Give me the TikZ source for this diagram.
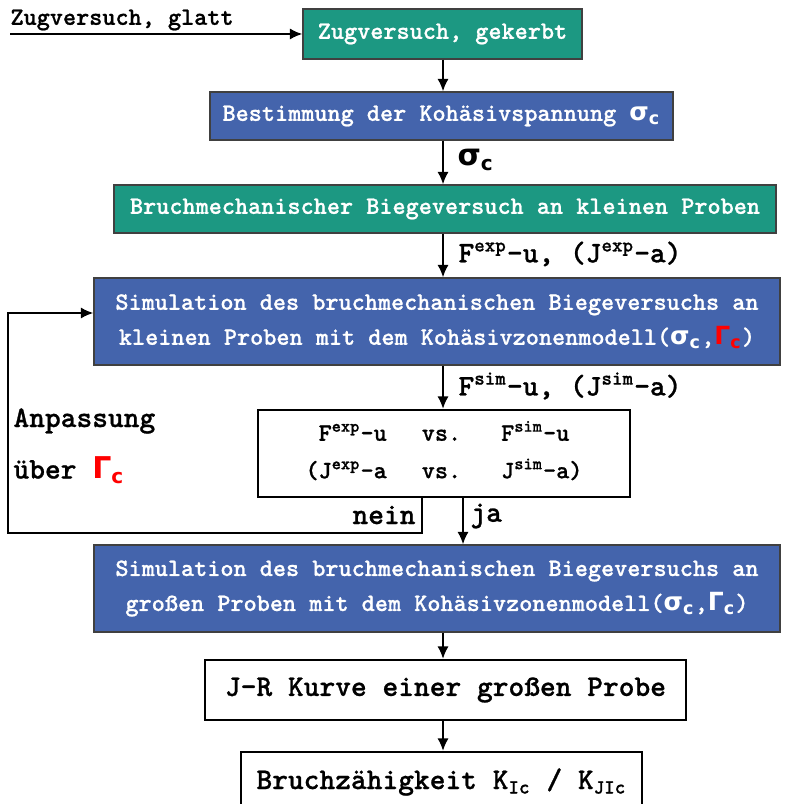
\documentclass[tikz,border=0pt]{standalone}
\usepackage{xcolor}
\usepackage{amsmath}
\usepackage{fontspec}
\usepackage{tikz}
\usetikzlibrary{arrows.meta,positioning}
\newfontfamily\grkfont{DejaVu Sans}
\newfontfamily\heavytt{lmmonolt10-bold}[Extension=.otf, FakeBold=0.8]
\definecolor{zugteal}{RGB}{28,152,130}
\definecolor{simblue}{RGB}{68,100,172}
\newcommand{\sigc}{{\grkfont\bfseries σ}\textsubscript{\grkfont\bfseries c}}
\newcommand{\gamc}{{\grkfont\bfseries Γ}\textsubscript{\grkfont\bfseries c}}
\newcommand{\hoch}[1]{\textsuperscript{#1}}
\newcommand{\tief}[1]{\textsubscript{#1}}

\begin{document}
\begin{tikzpicture}[x=0.4pt,y=-0.4pt,
  every node/.style={font=\heavytt, inner sep=0pt},
  tealbox/.style={draw=black!75, line width=0.5pt, fill=zugteal, text=white},
  bluebox/.style={draw=black!75, line width=0.5pt, fill=simblue, text=white, align=center, font=\heavytt\fontsize{10}{14}\selectfont},
  whitebox/.style={draw, line width=0.9pt, fill=white},
  lbl/.style={font=\heavytt\large, anchor=west},
  flow/.style={-{Latex[length=5pt,width=4.5pt]}, line width=0.8pt}]
\clip (0,0) rectangle (795,804);
\fill[white] (0,0) rectangle (795,804);

\node[tealbox, minimum width=111.6pt, minimum height=20pt] (zugk) at (442.5,34) {Zugversuch, gekerbt};
\node[bluebox, minimum width=185.2pt, minimum height=19.2pt] (kohs) at (441.5,116) {Bestimmung der Kohäsivspannung \sigc};
\node[tealbox, minimum width=264.8pt, minimum height=19.2pt] (biege) at (445,209) {Bruchmechanischer Biegeversuch an kleinen Proben};
\node[bluebox, minimum width=274.4pt, minimum height=34.8pt] (simk) at (437,321.5)
    {Simulation des bruchmechanischen Biegeversuchs an\\ kleinen Proben mit dem Kohäsivzonenmodell(\sigc,{\color{red}\gamc})};
\node[whitebox, minimum width=148.8pt, minimum height=34.8pt] (cmp) at (444,453.5)
    {\begin{tabular}{@{}r@{\hspace{14pt}}c@{\hspace{16pt}}l@{}}
     F\hoch{exp}-u & vs. & F\hoch{sim}-u\\[3pt]
     (J\hoch{exp}-a & vs. & J\hoch{sim}-a)
     \end{tabular}};
\node[bluebox, minimum width=274.4pt, minimum height=34.8pt] (siml) at (437,588.5)
    {Simulation des bruchmechanischen Biegeversuchs an\\ großen Proben mit dem Kohäsivzonenmodell(\sigc,\gamc)};
\node[whitebox, minimum width=192.4pt, minimum height=24pt, font=\heavytt\large] (jr) at (445.5,690) {J-R Kurve einer großen Probe};
\node[whitebox, minimum width=160.4pt, minimum height=24pt, font=\heavytt\large] (kic) at (441.5,782) {Bruchzähigkeit K\tief{Ic} / K\tief{JIc}};

% input from the left
\node[anchor=west] (glatt) at (10,20) {Zugversuch, glatt};
\coordinate (start) at (10,34);
\draw[flow] (start) -- (zugk.west);

% main column
\coordinate (spine) at (443,0);
\foreach \a/\b in {zugk/kohs, kohs/biege, biege/simk, simk/cmp, siml/jr, jr/kic}
  \draw[flow] (\a.south -| spine) -- (\b.north -| spine);

\node[lbl] (lsig) at (457,160) {\sigc};
\node[lbl] (lexp) at (458,254) {F\hoch{exp}-u, (J\hoch{exp}-a)};
\node[lbl] (lsim) at (458,386) {F\hoch{sim}-u, (J\hoch{sim}-a)};

% ja / nein
\coordinate (ja top) at ([xshift=7.6pt]cmp.south);
\draw[flow] (ja top) -- (ja top |- siml.north);
\node[lbl] (ja) at (470,516) {ja};

\coordinate (nein top) at ([xshift=-8.8pt]cmp.south);
\coordinate (back) at (8,533);
\draw[flow] (nein top) |- (back) |- ([yshift=3.4pt]simk.west);
\node[lbl, anchor=east] (nein) at (416,515) {nein};

\node[lbl] (anp) at (13,421) {Anpassung};
\node[lbl] (ueber) at (13,470) {über {\color{red}\gamc}};
\end{tikzpicture}
\end{document}
